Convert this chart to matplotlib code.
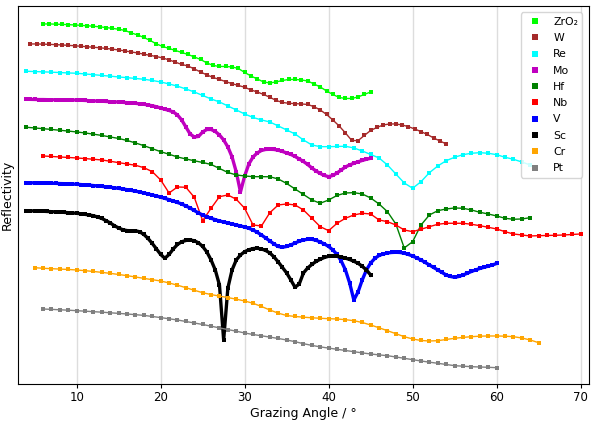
import numpy as np
import matplotlib
matplotlib.use('Agg')
import matplotlib.pyplot as plt
from matplotlib.lines import Line2D

# values (offset curves, arbitrary units, axis inverted)
labels = ['ZrO₂', 'W', 'Re', 'Mo', 'Hf', 'Nb', 'V', 'Sc', 'Cr', 'Pt']
colors = ['lime', 'brown', 'cyan', 'm', 'green', 'red', 'blue', 'black', 'orange', 'grey']
# densely sampled curves look like a thick band in the original
widths = [1.0, 1.0, 1.0, 2.4, 1.0, 1.0, 2.4, 2.4, 1.0, 1.0]

# angle grid of each curve: first angle, step (degrees)
zro2_start, zro2_step = 6, 0.75
w_start, w_step = 4.5, 0.75
re_start, re_step = 4, 1
mo_start, mo_step = 4, 0.5
hf_start, hf_step = 4, 1
nb_start, nb_step = 6, 1
v_start, v_step = 4, 0.5
sc_start, sc_step = 4, 0.5
cr_start, cr_step = 5, 1
pt_start, pt_step = 6, 1

zro2 = [24, 24, 24.2, 24.4, 24.7, 25, 25.4, 25.8, 26.3, 26.9,
        27.6, 28.4, 29.3, 30.5, 33, 35, 37.5, 40.5, 44, 46.5,
        48.5, 50.5, 52.5, 54.5, 57, 59.5, 63, 65.5, 66.5, 66.5,
        67, 68.5, 72.5, 76, 79, 82, 83, 82, 80.5, 79.5,
        79.5, 80, 81, 84, 87, 91, 94.5, 97.5, 98.5, 98.5,
        97, 94.5, 92]
w = [44, 44, 44.2, 44.4, 44.7, 45, 45.4, 45.8, 46.3, 46.8,
     47.3, 47.8, 48.5, 49.2, 50, 51, 52, 53, 54.2, 55.4,
     56.6, 58, 60, 62.2, 64.5, 66, 69, 72, 75, 77.5,
     79.5, 81.7, 83.7, 85.5, 87.3, 90, 92, 94.5, 97.3, 100.5,
     102.5, 103.3, 103.7, 104, 104.5, 106.7, 110, 114.5, 120, 126,
     133, 140.5, 140.7, 135.5, 130.5, 127.5, 125, 124, 124, 125,
     126.7, 129, 131.7, 134.5, 138, 141, 144]
re = [71.3, 71.6, 71.9, 72.2, 72.6, 73, 73.3, 74, 74.7, 75.5,
      76.2, 77, 77.7, 78.5, 79.3, 80.5, 82, 84, 86.2, 89,
      92, 95.5, 99, 102, 106, 110, 114, 117.5, 120, 122,
      126, 130, 134, 140, 145, 146.7, 146.7, 146.5, 146.3, 148,
      151, 154.5, 158, 165, 174, 183, 188.3, 181.7, 172.7, 166,
      160.7, 157.3, 154.7, 153.3, 152.7, 153.3, 154.7, 157.3, 159.3, 162,
      165]
mo = [99.3, 99.4, 99.5, 99.6, 99.6, 99.7, 99.8, 99.8, 99.9, 99.9,
      100, 100, 100.1, 100.3, 100.5, 100.7, 100.9, 101.1, 101.3, 101.5,
      101.7, 101.9, 102.1, 102.4, 102.7, 103, 103.4, 103.8, 104.3, 105,
      105.8, 106.8, 108, 109.3, 110.5, 112, 115, 120, 127, 134,
      137, 136.5, 132, 129.5, 129.5, 131.5, 135, 140, 147, 157,
      172, 192, 176, 164, 157, 153, 150.5, 149.5, 149.3, 149.5,
      150.3, 151.5, 153, 154.5, 156.5, 159, 161.5, 164.5, 168, 171,
      173.5, 175.5, 176.7, 175.5, 173, 170, 167, 165, 163.3, 161.8,
      160.5, 159.3, 158.3]
hf = [127.3, 128, 128.7, 129.5, 130.3, 131.1, 132, 133, 134.2, 135.5,
      137, 138.5, 140.5, 143, 145.7, 148.7, 151.7, 154.3, 157, 159,
      160.8, 162.5, 164.5, 168.5, 172.5, 175, 176, 176.7, 176.7, 176.8,
      179, 183.5, 189, 194.5, 200, 203.3, 200, 195.5, 193, 192.7,
      194, 198, 204, 211.7, 224, 248, 241.7, 225, 215, 210.7,
      209, 208, 208.3, 210, 212.3, 214, 216, 218.3, 219.3, 219,
      217.7]
nb = [156, 156.5, 157, 157.5, 158, 158.6, 159.3, 160, 161.3, 162.7,
      164, 165.3, 167.7, 171.7, 180, 193, 187, 187.3, 197.3, 220.7,
      208.3, 196.7, 195, 199.3, 208.3, 225, 226, 212.7, 205, 204,
      205, 210, 218.3, 226.7, 230.7, 223.3, 218.3, 215, 213.3, 214,
      220, 221.7, 225, 230, 231.7, 229.3, 226.7, 224.3, 223.3, 223.3,
      223.3, 224.3, 225.7, 227.3, 229, 231.7, 234, 235, 236, 235.7,
      235.5, 235.3, 235, 234.5, 234]
v = [182.7, 182.8, 182.9, 183, 183.1, 183.2, 183.3, 183.4, 183.6, 183.7,
     183.9, 184.1, 184.3, 184.6, 184.9, 185.2, 185.6, 186, 186.4, 186.8,
     187.3, 187.8, 188.4, 189, 189.7, 190.4, 191.2, 192, 193, 194,
     195, 196, 197.2, 198.4, 199.7, 201, 202.5, 204, 206, 208,
     210.5, 213, 215, 216.8, 218.3, 219.7, 221, 222, 223, 224,
     225, 226, 227, 228.3, 230, 232.3, 235, 238, 241, 244,
     246.5, 247.3, 246.5, 245, 243, 241.3, 240, 239.3, 239.3, 240.3,
     242, 244, 246.5, 250, 254.5, 261, 270, 283, 300, 292,
     280, 270, 263, 258.5, 255.5, 254, 253, 252.5, 252.3, 252.5,
     253.2, 254.5, 256, 258, 260, 262.5, 265, 267.5, 270, 272.5,
     275, 276.5, 277.3, 276.5, 275, 273.3, 271.5, 270, 268.5, 267.3,
     266.2, 265, 263.5]
sc = [210.7, 210.8, 211, 211.1, 211.3, 211.5, 211.7, 211.9, 212.1, 212.4,
      212.7, 213, 213.3, 213.8, 214.4, 215, 215.8, 217, 218.5, 220.7,
      223, 225.8, 228, 229.8, 230.6, 230.8, 230.8, 231.8, 234.5, 238.5,
      243.5, 249, 254.5, 258.3, 254.5, 249, 244.5, 241.8, 240.5, 240,
      240.8, 242.8, 246.5, 252, 260, 270, 285, 340, 288, 270,
      260, 255, 251.7, 249.8, 248.6, 248.3, 249, 250.5, 253, 257,
      262, 267.5, 273, 280, 287.3, 284, 273, 268, 264.5, 261.5,
      259.3, 257.5, 256.3, 256, 256.2, 257, 258.2, 259.5, 261.3, 263.3,
      266.3, 270, 275]
cr = [267.7, 268.3, 268.7, 269.1, 269.5, 270, 270.7, 271.5, 272.4, 273.4,
      274.5, 275.7, 277, 278.4, 279.7, 281, 283, 285.2, 287.7, 290.3,
      292.7, 294.6, 296.1, 297.6, 299.2, 301, 303.3, 306.5, 310, 313.2,
      315.5, 316.5, 317.2, 317.8, 318.3, 318.7, 319, 319.7, 320.7, 322.5,
      325, 327.8, 330.7, 333.7, 336.7, 339, 340.5, 341, 340.7, 339.5,
      338.3, 337.4, 336.7, 336.2, 336, 336, 336.2, 336.7, 338, 340,
      342.7]
pt = [309, 309.4, 309.8, 310.2, 310.7, 311.2, 311.7, 312.2, 312.8, 313.4,
      314, 314.7, 315.4, 316.5, 317.6, 318.8, 320, 321.5, 323, 324.5,
      326.2, 327.9, 329.6, 331.2, 333, 334.5, 335.8, 337.1, 338.5, 340,
      341.7, 343.7, 345.4, 346.9, 348.1, 349.3, 350.5, 351.7, 352.9, 354,
      354.9, 355.7, 357, 358.3, 359.7, 361, 362.2, 363.3, 364.5, 365.7,
      366.2, 366.7, 367, 367.3, 367.7]

curves = [(zro2, zro2_start, zro2_step), (w, w_start, w_step), (re, re_start, re_step),
          (mo, mo_start, mo_step), (hf, hf_start, hf_step), (nb, nb_start, nb_step),
          (v, v_start, v_step), (sc, sc_start, sc_step), (cr, cr_start, cr_step),
          (pt, pt_start, pt_step)]

plt.rcParams['font.size'] = 9
fig = plt.figure(figsize=(5.91, 4.25), dpi=100)
ax = fig.add_axes([0.031, 0.0965, 0.9656, 0.8895])

for (vals, start, step), c, lw in zip(curves, colors, widths):
    x = start + step * np.arange(len(vals))
    ax.plot(x, vals, '-s', color=c, lw=lw, markersize=3.5, mew=0, zorder=3)

ax.set_xlim(3.05, 71.0)
ax.set_ylim(384, 6)
ax.set_yticks([])
ax.set_xticks([10, 20, 30, 40, 50, 60, 70])
ax.grid(axis='x', color='#dddddd', lw=1, zorder=0)
ax.set_axisbelow(True)
ax.set_xlabel('Grazing Angle / °', fontsize=9, labelpad=2)
ax.set_ylabel('Reflectivity', fontsize=9, labelpad=3)
ax.tick_params(axis='x', labelsize=8.5, length=3, pad=2)

handles = [Line2D([], [], marker='s', ls='none', color=c, markersize=5, mew=0) for c in colors]
ax.legend(handles, labels, loc='upper right', fontsize=7.8, labelspacing=0.58,
          handlelength=1.8, borderaxespad=0.6)

fig.savefig('out.png', dpi=100)
